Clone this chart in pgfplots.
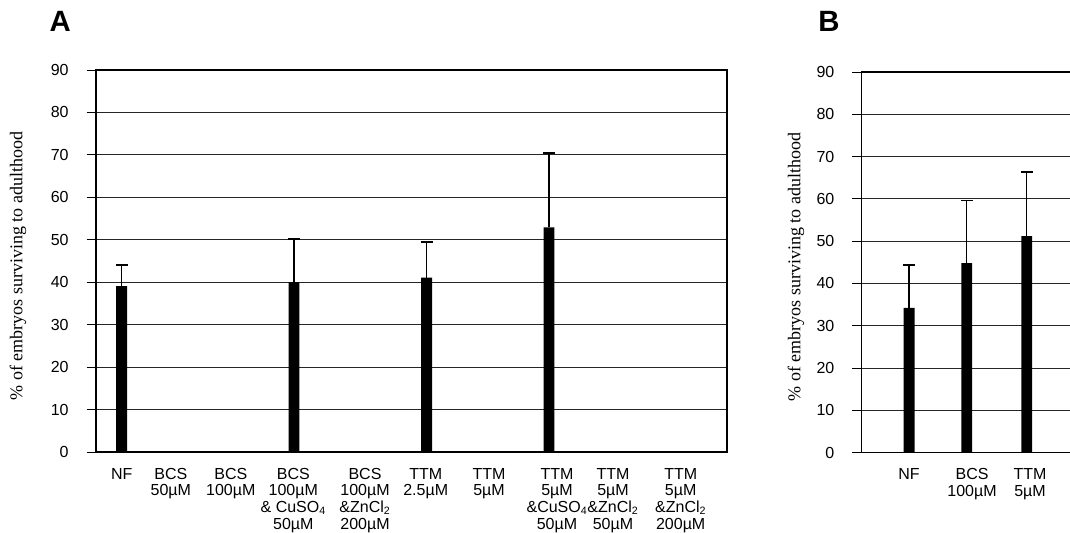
\documentclass[border=0pt]{standalone}
\usepackage{fontspec}
\setmainfont{Liberation Sans}
\newfontfamily\timesfont{Liberation Serif}
\usepackage{pgfplots}
\pgfplotsset{compat=1.18}

\pgfplotsset{
  panel/.style={
    scale only axis,
    ymin=0, ymax=90,
    ytick={0,10,...,90},
    ytick pos=left,
    ymajorgrids,
    grid style={black!85, line width=0.6pt},
    axis line style={black, line width=0.9pt},
    tick align=outside,
    major tick length=7pt,
    y tick style={black, line width=0.6pt},
    x tick style={draw=none},
    /pgf/number format/assume math mode=true,
    yticklabel style={font=\fontsize{12}{14}\selectfont, xshift=-10pt},
    xticklabel style={font=\fontsize{12}{12.5}\selectfont, align=center, anchor=north, yshift=-1.5pt},
    ylabel style={font=\timesfont\fontsize{13.5}{16}\selectfont, anchor=center},
    clip=false,
  },
  barplot/.style={
    ybar, bar width=8.2pt, fill=black, draw=none,
    error bars/.cd, y dir=plus, y explicit,
    error bar style={black, line width=1pt},
    error mark options={rotate=90, mark size=4.5pt, line width=1.1pt, black},
  },
}

\pgfplotstableread{
x     y     e
121.7 39.1  5.0
294.0 40.0  10.2
426.7 41.1  8.4
549.0 52.9  17.5
}\dataA

\pgfplotstableread{
x      y     e
909.0  34.2  10.2
966.7  44.8  14.8
1026.7 51.2  15.2
}\dataB

\begin{document}
\begin{tikzpicture}
\useasboundingbox (0,0) rectangle (802.5pt,399pt);
\clip (0,0) rectangle (802.5pt,399pt);

\node[anchor=base west, inner sep=0pt, font=\bfseries\fontsize{22}{24}\selectfont] at (37pt,375pt) {A};
\node[anchor=base west, inner sep=0pt, font=\bfseries\fontsize{22}{24}\selectfont] at (613.5pt,375pt) {B};

\begin{axis}[panel,
  at={(72pt,60pt)}, anchor=south west,
  width=473.25pt, height=286.5pt,
  xmin=96, xmax=727,
  xtick={121.7,170.8,230.8,293.3,365,425.7,489,557,613,680.7},
  xticklabels={NF, {BCS\\50µM}, {BCS\\100µM}, {BCS\\100µM\\\& CuSO\textsubscript{4}\\50µM},
    {BCS\\100µM\\\&ZnCl\textsubscript{2}\\200µM}, {TTM\\2.5µM}, {TTM\\5µM},
    {TTM\\5µM\\\&CuSO\textsubscript{4}\\50µM}, {TTM\\5µM\\\&ZnCl\textsubscript{2}\\50µM},
    {TTM\\5µM\\\&ZnCl\textsubscript{2}\\200µM}},
  ylabel={\% of embryos surviving to adulthood},
  ylabel style={at={(axis description cs:-0.1236,0.487)}},
]
\addplot[barplot] table[x=x, y=y, y error=e] {\dataA};
\end{axis}

\begin{axis}[panel,
  at={(646.3pt,59.6pt)}, anchor=south west,
  width=167.5pt, height=285.4pt,
  xmin=861.7, xmax=1085,
  xtick={909,972,1030},
  xticklabels={NF, {BCS\\100µM}, {TTM\\5µM}},
  ylabel={\% of embryos surviving to adulthood},
  ylabel style={at={(axis description cs:-0.2945,0.487)}},
]
\addplot[barplot] table[x=x, y=y, y error=e] {\dataB};
\end{axis}
\end{tikzpicture}
\end{document}
